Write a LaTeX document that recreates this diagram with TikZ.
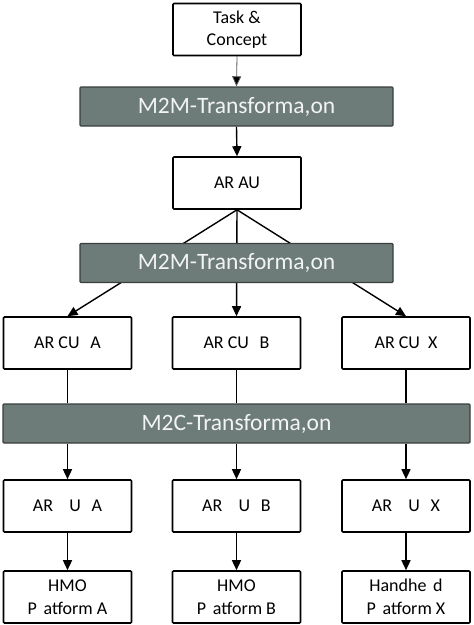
\documentclass[tikz,border=0pt]{standalone}
\usepackage{fontspec}
\setmainfont{Carlito}
\usetikzlibrary{arrows.meta,backgrounds}
\definecolor{barfill}{HTML}{6D7B79}
\definecolor{barline}{HTML}{3A3F3E}
\definecolor{bartext}{HTML}{F2F4F3}
\tikzset{
  wbox/.style={draw=black, line width=1.6pt, fill=white, rounded corners=1pt, minimum width=128pt, minimum height=52pt, inner sep=0pt, align=center, font=\fontsize{18pt}{22.5pt}\selectfont},
  bar/.style={draw=barline, line width=1.4pt, fill=barfill, rounded corners=1pt, minimum height=39pt, inner sep=0pt, text=bartext, font=\fontsize{23.5pt}{26pt}\selectfont},
  conn/.style={line width=1.4pt, black},
  arr/.style={conn, -{Triangle[length=10pt,width=9pt]}},
}
\begin{document}
\begin{tikzpicture}[x=1pt,y=-1pt]
\useasboundingbox (0,0) rectangle (474,625);
\node[wbox] (task) at (237,29.5) {Task \&\\Concept};
\node[bar, minimum width=313pt] (m2m1) at (236.5,106.5) {M2M-Transforma,on};
\node[wbox] (arau) at (237,183) {AR AU};
\node[bar, minimum width=313pt] (m2m2) at (236.5,263) {M2M-Transforma,on};
\node[wbox] (cua) at (67.5,343) {AR CU\hspace{0.6em}A};
\node[wbox] (cub) at (236.5,343) {AR CU\hspace{0.6em}B};
\node[wbox] (cux) at (406,343) {AR CU\hspace{0.45em}X};
\node[bar, minimum width=467pt] (m2c) at (236.5,423.5) {M2C-Transforma,on};
\node[wbox] (uia) at (67.5,506) {AR\hspace{0.9em}U\hspace{0.6em}A};
\node[wbox] (uib) at (236.5,506) {AR\hspace{0.9em}U\hspace{0.6em}B};
\node[wbox] (uix) at (406,506) {AR\hspace{0.9em}U\hspace{0.6em}X};
\node[wbox] (pa) at (67.5,597) {HMO\\P\hspace{0.37em}atform A};
\node[wbox] (pb) at (236.5,597) {HMO\\P\hspace{0.37em}atform B};
\node[wbox] (px) at (406,597) {Handhe\hspace{0.37em}d\\P\hspace{0.37em}atform X};
\begin{scope}[on background layer]
\draw[line width=0.8pt, draw=black!65, -{Triangle[length=10pt,width=9pt,fill=black]}] (task.south) -- (m2m1.north);
\draw[arr] (m2m1.south) -- (arau.north);
\draw[arr] (arau.south) -- (cua.north);
\draw[arr] (arau.south) -- (cub.north);
\draw[arr] (arau.south) -- (cux.north);
\foreach \c in {cua,cub,cux} \draw[conn] (\c.south) -- (\c.south |- m2c.north);
\end{scope}
\foreach \u in {uia,uib,uix} \draw[arr] (\u.north |- m2c.south) -- (\u.north);
\draw[arr] (uia.south) -- (pa.north);
\draw[arr] (uib.south) -- (pb.north);
\draw[arr] (uix.south) -- (px.north);
\end{tikzpicture}
\end{document}
